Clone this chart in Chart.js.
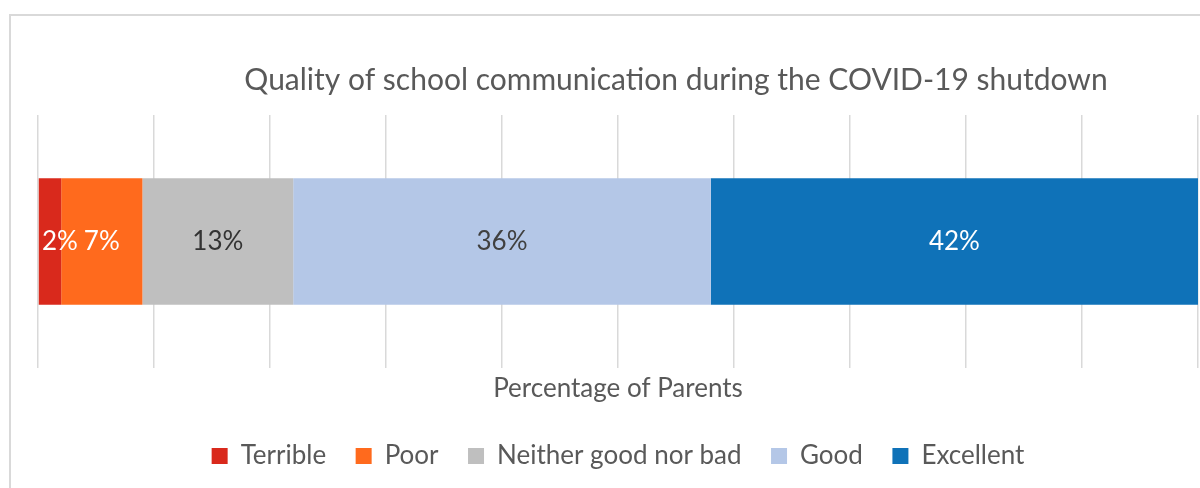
<!DOCTYPE html>
<html>
<head>
<meta charset="utf-8">
<script src="https://cdn.jsdelivr.net/npm/chart.js@4/dist/chart.umd.min.js"></script>
<style>
  html, body { margin: 0; padding: 0; background: #ffffff; overflow: hidden; }
  #wrap { position: relative; width: 1200px; height: 488px; }
  #frame { position: absolute; left: 9px; top: 14px; width: 1400px; height: 600px; border: 2px solid #d9d9d9; }
  #chart { position: absolute; left: 0; top: 0; }
</style>
</head>
<body>
<div id="wrap">
  <div id="frame"></div>
  <canvas id="chart" width="1200" height="488"></canvas>
</div>
<script>
// survey answers, stacked left to right
const categories = ['Terrible', 'Poor', 'Neither good nor bad', 'Good', 'Excellent'];
const percentages = [2, 7, 13, 36, 42];
const barColors = ['#d9291c', '#ff6a1d', '#bfbfbf', '#b4c7e7', '#0f72b8'];
const labelColors = ['#ffffff', '#ffffff', '#333333', '#404040', '#ffffff'];
const chartTitle = 'Quality of school communication during the COVID-19 shutdown';
const axisTitle = 'Percentage of Parents';

const FONT = 'Lato, "Open Sans", sans-serif';
const GREY = '#595959';

// title sits a bit right of the plot centre, so it's drawn by hand
const titlePlugin = {
  id: 'sideTitle',
  afterDraw(chart) {
    const ctx = chart.ctx;
    const area = chart.chartArea;
    ctx.save();
    ctx.font = '30px ' + FONT;
    ctx.fillStyle = GREY;
    ctx.textAlign = 'center';
    ctx.textBaseline = 'middle';
    ctx.fillText(chartTitle, (area.left + area.right) / 2 + 58, 80);
    ctx.restore();
  }
};

// percentage labels in the middle of each segment
const valueLabels = {
  id: 'valueLabels',
  afterDatasetsDraw(chart) {
    const ctx = chart.ctx;
    ctx.save();
    ctx.font = '26px ' + FONT;
    ctx.textAlign = 'center';
    ctx.textBaseline = 'middle';
    chart.data.datasets.forEach((ds, i) => {
      const bar = chart.getDatasetMeta(i).data[0];
      const text = ds.data[0] + '%';
      const w = ctx.measureText(text).width;
      let x = (bar.x + bar.base) / 2;
      x = Math.max(x, chart.chartArea.left + w / 2 + 4);
      ctx.fillStyle = labelColors[i];
      ctx.fillText(text, x, bar.y);
    });
    ctx.restore();
  }
};

const datasets = categories.map((name, i) => ({
  label: name,
  data: [percentages[i]],
  backgroundColor: barColors[i],
  borderWidth: 0,
  barPercentage: 0.5,
  categoryPercentage: 1.0
}));

new Chart(document.getElementById('chart').getContext('2d'), {
  type: 'bar',
  data: { labels: [''], datasets: datasets },
  options: {
    indexAxis: 'y',
    responsive: false,
    animation: false,
    layout: { padding: { left: 38, right: 2, top: 115, bottom: 9 } },
    scales: {
      x: {
        stacked: true,
        min: 0,
        max: 100,
        ticks: { display: false, stepSize: 10 },
        grid: { color: '#d9d9d9', lineWidth: 1.5, drawTicks: false },
        border: { display: false },
        title: {
          display: true,
          text: axisTitle,
          color: GREY,
          font: { family: FONT, size: 26, lineHeight: 1.2 },
          padding: { top: 5.4, bottom: 8.9 }
        }
      },
      y: { stacked: true, display: false }
    },
    plugins: {
      title: { display: false },
      tooltip: { enabled: false },
      legend: {
        position: 'bottom',
        labels: {
          boxWidth: 16,
          boxHeight: 16,
          padding: 29.5,
          color: GREY,
          font: { family: FONT, size: 26 }
        }
      }
    }
  },
  plugins: [titlePlugin, valueLabels]
});
</script>
</body>
</html>
